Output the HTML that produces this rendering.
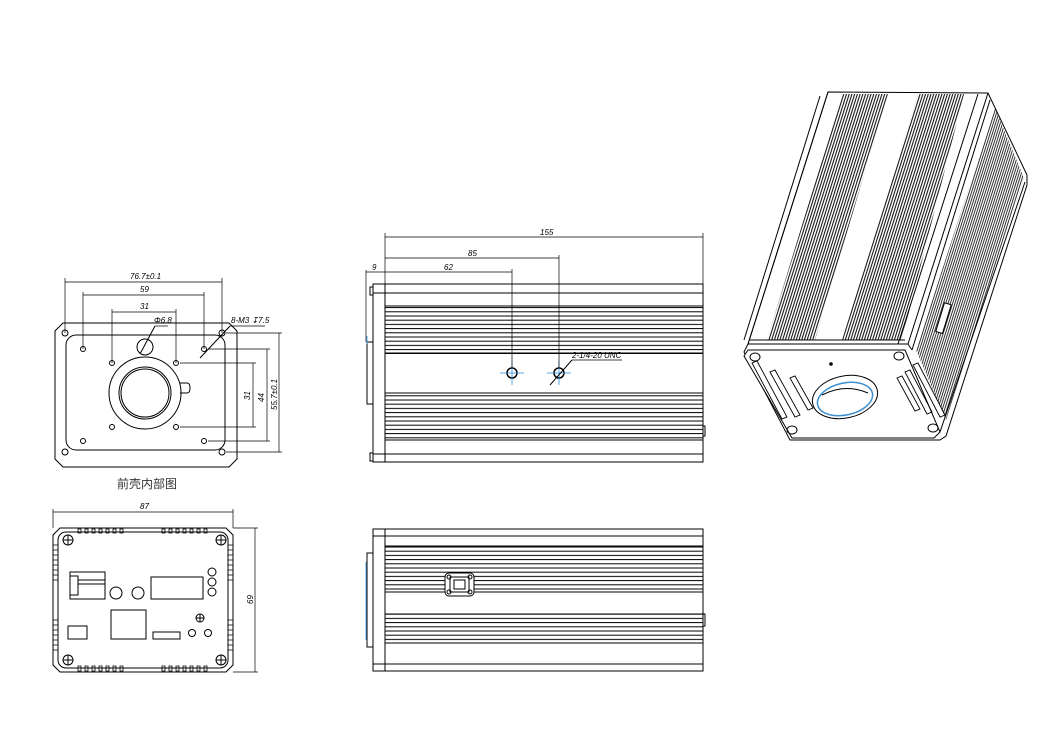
<!DOCTYPE html>
<html><head><meta charset="utf-8"><style>
html,body{margin:0;padding:0;background:#fff;}
svg{display:block;}
text{font-family:"Liberation Sans",sans-serif;font-style:italic;font-size:8px;fill:#000;}
.cn{font-family:"Liberation Sans","Noto Sans CJK SC",sans-serif;font-style:normal;font-size:12px;fill:#333;}
</style></head><body>
<svg width="1050" height="739" viewBox="0 0 1050 739" xmlns="http://www.w3.org/2000/svg">
<defs>
<pattern id="fin" width="2.6" height="10" patternUnits="userSpaceOnUse" patternTransform="rotate(17.5)">
<line x1="1" y1="0" x2="1" y2="10" stroke="#000" stroke-width="1"/></pattern>
<pattern id="fin2" width="2.2" height="10" patternUnits="userSpaceOnUse" patternTransform="rotate(17.5)">
<line x1="1" y1="0" x2="1" y2="10" stroke="#000" stroke-width="0.8"/></pattern>
<pattern id="hf" width="10" height="4.2" patternUnits="userSpaceOnUse">
<line x1="0" y1="1" x2="10" y2="1" stroke="#000" stroke-width="1"/></pattern>
</defs>
<g fill="none" stroke="#000" stroke-width="1">

<!-- FRONT INNER VIEW -->
<polygon points="63,323 229,323 237,331 237,459 229,467 63,467 55,459 55,331"/>
<rect x="66" y="335" width="159" height="115" rx="10"/>
<circle cx="65" cy="333" r="3"/><circle cx="222" cy="333" r="3"/><circle cx="65" cy="452" r="3"/><circle cx="222" cy="452" r="3"/>
<circle cx="83" cy="349" r="2.5"/><circle cx="204" cy="349" r="2.5"/><circle cx="83" cy="441" r="2.5"/><circle cx="204" cy="441" r="2.5"/>
<circle cx="112" cy="363" r="2.5"/><circle cx="176" cy="363" r="2.5"/><circle cx="112" cy="427" r="2.5"/><circle cx="176" cy="427" r="2.5"/>
<circle cx="145" cy="393" r="36"/><circle cx="145" cy="393" r="26"/><circle cx="145" cy="393" r="24"/>
<path d="M180,383 H187 Q190,383 190,388 Q190,393 187,393 H180"/>
<circle cx="145" cy="347" r="8"/><line x1="140" y1="354" x2="155" y2="326"/><line x1="155" y1="326" x2="168" y2="326" stroke-width="0.7"/>
<line x1="200" y1="358" x2="230" y2="326"/><line x1="230" y1="326" x2="265" y2="326" stroke-width="0.7"/>
<g stroke-width="0.7">
<line x1="65" y1="282" x2="222" y2="282"/><line x1="65" y1="278" x2="65" y2="333"/><line x1="222" y1="278" x2="222" y2="333"/>
<line x1="83" y1="295" x2="204" y2="295"/><line x1="83" y1="292" x2="83" y2="349"/><line x1="204" y1="292" x2="204" y2="349"/>
<line x1="112" y1="312" x2="176" y2="312"/><line x1="112" y1="309" x2="112" y2="363"/><line x1="176" y1="309" x2="176" y2="363"/>
<line x1="253" y1="363" x2="253" y2="427"/><line x1="180" y1="363" x2="256" y2="363"/><line x1="180" y1="427" x2="256" y2="427"/>
<line x1="267" y1="349" x2="267" y2="441"/><line x1="208" y1="349" x2="270" y2="349"/><line x1="208" y1="441" x2="270" y2="441"/>
<line x1="279" y1="333" x2="279" y2="452"/><line x1="226" y1="333" x2="282" y2="333"/><line x1="226" y1="452" x2="282" y2="452"/>
</g>
</g>
<text x="130" y="279">76.7±0.1</text><text x="140" y="292">59</text><text x="140" y="309">31</text>
<text x="154" y="323">Φ6.8</text><text x="231" y="323">8-M3 ↧7.5</text>
<text transform="translate(250,400) rotate(-90)">31</text>
<text transform="translate(264,402) rotate(-90)">44</text>
<text transform="translate(277,410) rotate(-90)">55.7±0.1</text>
<text x="117" y="488" class="cn">前壳内部图</text>

<!-- BACK VIEW -->
<g fill="none" stroke="#000" stroke-width="1">
<polygon points="60,528 226,528 233,535 233,665 226,672 60,672 53,665 53,535"/>
<rect x="58" y="532" width="170" height="136" rx="8"/>
<g stroke-width="0.8">
<path d="M78,529 h3 v4 h-3 z M85,529 h3 v4 h-3 z M92,529 h3 v4 h-3 z M99,529 h3 v4 h-3 z M106,529 h3 v4 h-3 z M113,529 h3 v4 h-3 z M120,529 h3 v4 h-3 z"/>
<path d="M162,529 h3 v4 h-3 z M169,529 h3 v4 h-3 z M176,529 h3 v4 h-3 z M183,529 h3 v4 h-3 z M190,529 h3 v4 h-3 z M197,529 h3 v4 h-3 z M204,529 h3 v4 h-3 z"/>
<path d="M78,666 h3 v5 h-3 z M85,666 h3 v5 h-3 z M92,666 h3 v5 h-3 z M99,666 h3 v5 h-3 z M106,666 h3 v5 h-3 z M113,666 h3 v5 h-3 z M120,666 h3 v5 h-3 z"/>
<path d="M162,666 h3 v5 h-3 z M169,666 h3 v5 h-3 z M176,666 h3 v5 h-3 z M183,666 h3 v5 h-3 z M190,666 h3 v5 h-3 z M197,666 h3 v5 h-3 z M204,666 h3 v5 h-3 z"/>
<path d="M53,545 h5 M53,550 h5 M53,555 h5 M53,560 h5 M53,565 h5 M53,570 h5 M53,575 h5 M53,580 h5 M53,620 h5 M53,625 h5 M53,630 h5 M53,635 h5 M53,640 h5 M53,645 h5 M53,650 h5"/>
<path d="M228,545 h5 M228,550 h5 M228,555 h5 M228,560 h5 M228,565 h5 M228,570 h5 M228,575 h5 M228,580 h5 M228,620 h5 M228,625 h5 M228,630 h5 M228,635 h5 M228,640 h5 M228,645 h5 M228,650 h5"/>
</g>
<g><circle cx="68" cy="540" r="5"/><path d="M63,540h10M68,535v10"/>
<circle cx="221" cy="540" r="5"/><path d="M216,540h10M221,535v10"/>
<circle cx="68" cy="660" r="5"/><path d="M63,660h10M68,655v10"/>
<circle cx="221" cy="660" r="5"/><path d="M216,660h10M221,655v10"/>
<circle cx="200" cy="618" r="4"/><path d="M196,618h8M200,614v8"/></g>
<rect x="70" y="572" width="35" height="27"/><rect x="70" y="576" width="8" height="19"/><path d="M78,580H105M78,584H105"/>
<circle cx="116" cy="593" r="6"/><circle cx="138" cy="593" r="6"/>
<rect x="151" y="577" width="52" height="22"/>
<circle cx="212" cy="572" r="4"/><circle cx="212" cy="582" r="4"/><circle cx="212" cy="592" r="4"/>
<rect x="111" y="610" width="35" height="29"/><rect x="68" y="626" width="19" height="13"/><rect x="153" y="632" width="27" height="7"/>
<circle cx="192" cy="633" r="3.5"/><circle cx="208" cy="633" r="3.5"/>
<g stroke-width="0.7"><line x1="53" y1="512" x2="233" y2="512"/><line x1="53" y1="509" x2="53" y2="528"/><line x1="233" y1="509" x2="233" y2="528"/>
<line x1="255" y1="528" x2="255" y2="672"/><line x1="233" y1="528" x2="258" y2="528"/><line x1="233" y1="672" x2="258" y2="672"/></g>
</g>
<text x="140" y="509">87</text>
<text transform="translate(253,604) rotate(-90)">69</text>

<!-- SIDE VIEW TOP -->
<g fill="none" stroke="#000" stroke-width="1">
<rect x="373" y="284" width="330" height="178"/>
<line x1="385" y1="284" x2="385" y2="462"/>
<line x1="373" y1="293" x2="703" y2="293"/><line x1="373" y1="454" x2="703" y2="454"/>
<rect x="385" y="306" width="318" height="48" fill="url(#hf)" stroke="none"/>
<line x1="385" y1="306" x2="703" y2="306"/><line x1="385" y1="353" x2="703" y2="353"/>
<rect x="385" y="393" width="318" height="48" fill="url(#hf)" stroke="none"/>
<line x1="385" y1="393" x2="703" y2="393"/><line x1="385" y1="440" x2="703" y2="440"/>
<rect x="367" y="342" width="6" height="62"/>
<rect x="370" y="287" width="3" height="8"/><rect x="370" y="453" width="3" height="8"/>
<rect x="703" y="426" width="2" height="10"/>
<circle cx="512" cy="373" r="5" stroke-width="1.5"/><circle cx="559" cy="373" r="5" stroke-width="1.5"/>
<g stroke="#2a8fdc" stroke-width="0.8"><path d="M500,373h24M512,361v24M547,373h24M559,361v24M367,336v8"/></g>
<line x1="550" y1="385" x2="572" y2="360"/><line x1="572" y1="360" x2="622" y2="360" stroke-width="0.7"/>
<g stroke-width="0.7">
<line x1="385" y1="237" x2="703" y2="237"/><line x1="385" y1="233" x2="385" y2="284"/><line x1="703" y1="233" x2="703" y2="284"/>
<line x1="385" y1="258" x2="559" y2="258"/><line x1="559" y1="255" x2="559" y2="368"/>
<line x1="366" y1="272" x2="512" y2="272"/><line x1="512" y1="269" x2="512" y2="368"/><line x1="366" y1="270" x2="366" y2="342"/>
</g>
</g>
<text x="540" y="235">155</text><text x="468" y="256">85</text><text x="444" y="270">62</text><text x="372" y="270">9</text>
<text x="572" y="358">2-1/4-20 UNC</text>

<!-- SIDE VIEW BOTTOM -->
<g fill="none" stroke="#000" stroke-width="1">
<rect x="373" y="529" width="330" height="142"/>
<line x1="385" y1="529" x2="385" y2="671"/>
<line x1="373" y1="536" x2="703" y2="536"/><line x1="373" y1="664" x2="703" y2="664"/>
<rect x="385" y="546" width="318" height="46" fill="url(#hf)" stroke="none"/>
<line x1="385" y1="546" x2="703" y2="546"/><line x1="385" y1="592" x2="703" y2="592"/>
<rect x="385" y="614" width="318" height="29" fill="url(#hf)" stroke="none"/>
<line x1="385" y1="614" x2="703" y2="614"/><line x1="385" y1="643" x2="703" y2="643"/>
<rect x="367" y="553" width="6" height="94"/>
<line x1="366" y1="562" x2="366" y2="640" stroke="#2a8fdc" stroke-width="0.8"/>
<rect x="445" y="573" width="29" height="23" rx="4" fill="#fff"/>
<rect x="450" y="577" width="19" height="15"/><rect x="454" y="580" width="11" height="9"/>
<circle cx="449" cy="577" r="2"/><circle cx="470" cy="577" r="2"/><circle cx="449" cy="592" r="2"/><circle cx="470" cy="592" r="2"/>
<rect x="703" y="614" width="2" height="12"/>
</g>

<!-- ISOMETRIC -->
<g fill="none" stroke="#000" stroke-width="1">
<polygon points="828,92 988,93 1027,175 1027,185 946,436 940,440 790,440 744,352 748,344" fill="#fff"/>
<polygon points="842,94 888,94 815,340 767,340" fill="url(#fin)" stroke="none"/>
<polygon points="918,94 964,94 902,340 842,340" fill="url(#fin)" stroke="none"/>
<polygon points="995,108 1024,178 946,420 916,350" fill="url(#fin2)" stroke="none"/>
<line x1="828" y1="92" x2="748" y2="344"/><line x1="820" y1="96" x2="744" y2="340"/>
<line x1="988" y1="93" x2="908" y2="344"/><line x1="978" y1="94" x2="898" y2="344"/>
<line x1="990" y1="100" x2="912" y2="350"/>
<line x1="748" y1="344" x2="908" y2="344"/><line x1="750" y1="340" x2="905" y2="340"/>
<polygon points="748,350 905,350 940,432 934,438 792,438 744,356" fill="#fff"/>
<line x1="908" y1="344" x2="912" y2="350"/>
<ellipse cx="755" cy="357" rx="5" ry="4"/><ellipse cx="899" cy="356" rx="5" ry="4"/>
<ellipse cx="792" cy="430" rx="5" ry="4"/><ellipse cx="933" cy="428" rx="5" ry="4"/>
<circle cx="831" cy="364" r="1.3" fill="#000"/>
<ellipse cx="845" cy="397" rx="33" ry="21" transform="rotate(-12 845 397)"/>
<ellipse cx="845" cy="399" rx="28" ry="16" transform="rotate(-12 845 399)" stroke="#3a8fd0" stroke-width="1.5"/>
<path d="M822,395 Q845,383 868,393"/>
<g stroke-width="0.9">
<path d="M752,363 l30,56 l5,-2 l-30,-56 z"/><path d="M770,372 l25,45 l5,-2 l-25,-45 z"/><path d="M790,378 l18,32 l5,-2 l-18,-32 z"/>
<path d="M897,378 l18,33 l5,-2 l-18,-33 z"/><path d="M905,372 l22,42 l5,-2 l-22,-42 z"/><path d="M913,365 l27,52 l5,-2 l-27,-52 z"/>
</g>
<line x1="940" y1="432" x2="1025" y2="182"/>
<rect x="940" y="303" width="7" height="30" transform="rotate(17 943 318)" fill="#fff"/>
</g>
</svg>
</body></html>
